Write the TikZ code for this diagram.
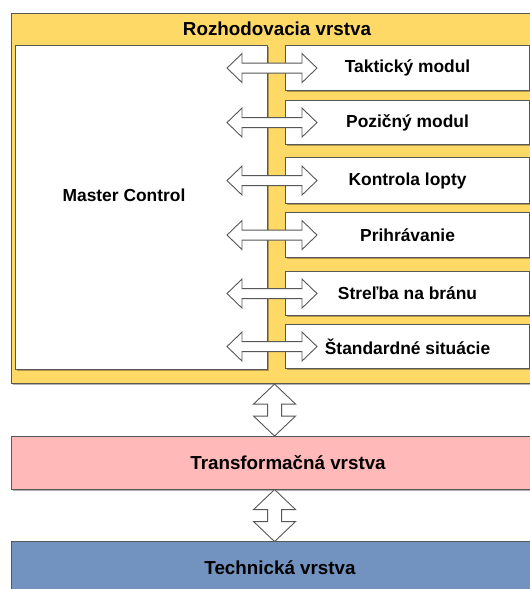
\documentclass[tikz,border=0pt]{standalone}
\usepackage{fontspec}
\setmainfont{Liberation Sans}
\usetikzlibrary{shadows,calc}

\definecolor{layeryellow}{HTML}{FFD966}
\definecolor{layerpink}{HTML}{FFB9B9}
\definecolor{layerblue}{HTML}{7293C0}
\definecolor{edgegray}{HTML}{575757}

% horizontal double block arrow centred on a coordinate
\newcommand{\hblockarrow}[1]{%
  \draw[blockarrow,shift={(#1)}]
    (-45,0) -- (-30,-14.5) -- (-30,-5) -- (30,-5) -- (30,-14.5) -- (45,0)
    -- (30,14.5) -- (30,5) -- (-30,5) -- (-30,14.5) -- cycle;}
% vertical double block arrow centred on a coordinate
\newcommand{\vblockarrow}[1]{%
  \draw[blockarrow,shift={(#1)}]
    (0,-26) -- (21,-6) -- (7,-6) -- (7,6) -- (21,6) -- (0,26)
    -- (-21,6) -- (-7,6) -- (-7,-6) -- (-21,-6) -- cycle;}

\begin{document}
\begin{tikzpicture}[x=1pt,y=-1pt,
  box/.style={draw=edgegray, line width=1.1pt, rectangle, inner sep=0pt,
    anchor=north west,
    drop shadow={shadow xshift=1.2pt, shadow yshift=-1.2pt, fill=black, opacity=0.3}},
  blockarrow/.style={draw=edgegray, fill=white, line width=0.9pt, line join=miter},
  modtext/.style={font=\fontsize{17.4}{20}\selectfont\bfseries},
  layertext/.style={font=\fontsize{18.8}{22}\selectfont\bfseries},
]
\useasboundingbox[fill=white] (0,0) rectangle (530,589);

% decision layer with its modules
\node[box, fill=layeryellow, minimum width=532pt, minimum height=370pt] (dec) at (11,13) {};
\node[layertext] (dectitle) at (277,29) {Rozhodovacia vrstva};

\node[box, fill=white, minimum width=252pt, minimum height=324pt] (master) at (15,45) {};
\node[modtext] (mastertext) at (124,195) {Master Control};

\node[box, fill=white, minimum width=244pt, minimum height=45pt, modtext] (m1) at (285,45)  {Taktický modul};
\node[box, fill=white, minimum width=244pt, minimum height=44pt, modtext] (m2) at (285,100) {Pozičný modul};
\node[box, fill=white, minimum width=244pt, minimum height=46pt, modtext] (m3) at (285,157) {Kontrola lopty};
\node[box, fill=white, minimum width=244pt, minimum height=45pt, modtext] (m4) at (285,212) {Prihrávanie};
\node[box, fill=white, minimum width=244pt, minimum height=44pt, modtext] (m5) at (285,271) {Streľba na bránu};
\node[box, fill=white, minimum width=244pt, minimum height=44pt, modtext] (m6) at (285,324) {Štandardné situácie};

% lower layers
\node[box, fill=layerpink, minimum width=532pt, minimum height=53pt] (trans) at (11,436) {};
\node[layertext] (transtext) at (288,463) {Transformačná vrstva};
\node[box, fill=layerblue, minimum width=532pt, minimum height=60pt] (tech) at (11,541) {};
\node[layertext] (techtext) at (280,568) {Technická vrstva};

% links between master control and the modules
\foreach \m in {m1,m2,m3,m4,m5,m6}{
  \coordinate (a\m) at ($(\m.west)+(-13,0)$);
  \hblockarrow{a\m}
}

% links between the layers
\coordinate (v1) at ($(dec.south)!0.5!(trans.north)+(-3,0)$);
\coordinate (v2) at ($(trans.south)!0.5!(tech.north)+(-3,0)$);
\vblockarrow{v1}
\vblockarrow{v2}
\end{tikzpicture}
\end{document}
